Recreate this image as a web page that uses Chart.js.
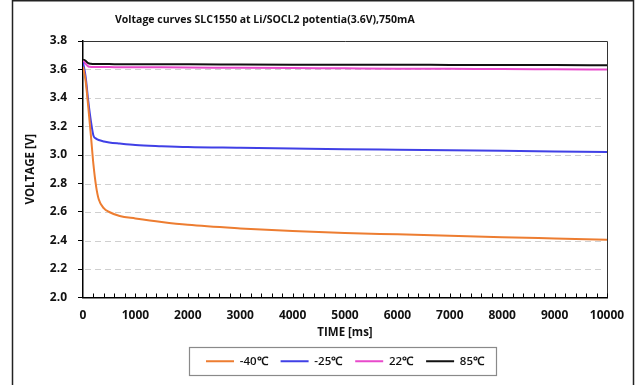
<!DOCTYPE html>
<html>
<head>
<meta charset="utf-8">
<script src="https://cdn.jsdelivr.net/npm/chart.js@4.4.1/dist/chart.umd.min.js"></script>
<style>
  html, body { margin: 0; padding: 0; background: #fff; }
  #wrap { position: relative; width: 638px; height: 385px; }
  #title {
    position: absolute; left: 115px; top: 12px;
    font: bold 10.5px "Open Sans", sans-serif; color: #111; white-space: nowrap;
  }
</style>
</head>
<body>
<div id="wrap">
  <canvas id="c" width="638" height="385"></canvas>
  <div id="title">Voltage curves SLC1550 at Li/SOCL2 potentia(3.6V),750mA</div>
</div>
<script>
const timeMs = [0, 50, 100, 150, 200, 250, 300, 400, 500, 700, 1000, 1500, 2000, 3000, 4000, 5000, 6000, 7000, 8000, 9000, 10000];
const vMinus40 = [3.62, 3.52, 3.34, 3.14, 2.93, 2.78, 2.69, 2.625, 2.60, 2.572, 2.555, 2.53, 2.51, 2.485, 2.466, 2.453, 2.443, 2.433, 2.423, 2.414, 2.405];
const vMinus25 = [3.65, 3.55, 3.38, 3.24, 3.135, 3.115, 3.105, 3.095, 3.088, 3.08, 3.07, 3.062, 3.056, 3.051, 3.046, 3.041, 3.037, 3.033, 3.029, 3.025, 3.021];
const v22 = [3.66, 3.64, 3.622, 3.618, 3.617, 3.617, 3.617, 3.617, 3.617, 3.616, 3.616, 3.615, 3.614, 3.612, 3.610, 3.608, 3.606, 3.605, 3.603, 3.602, 3.600];
const v85 = [3.67, 3.66, 3.645, 3.64, 3.638, 3.638, 3.638, 3.638, 3.638, 3.637, 3.637, 3.636, 3.636, 3.635, 3.634, 3.633, 3.633, 3.632, 3.631, 3.631, 3.630];
const seriesLabels = ["-40℃", "-25℃", "22℃", "85℃"];
const seriesColors = ["#ED7D31", "#4040E6", "#E84ACB", "#111111"];
const yTicks = [2.0, 2.2, 2.4, 2.6, 2.8, 3.0, 3.2, 3.4, 3.6, 3.8];

const FONT = "'Open Sans', sans-serif";

function pts(vals){
  return timeMs.map((t, i) => ({x: t, y: vals[i]}));
}

const frame = {
  id: "frame",
  beforeDraw(chart){
    const ctx = chart.ctx;
    ctx.save();
    ctx.strokeStyle = "#222";
    ctx.lineWidth = 1.5;
    ctx.beginPath();
    ctx.moveTo(12.5, 390); ctx.lineTo(12.5, 0.75); ctx.lineTo(633.5, 0.75); ctx.lineTo(633.5, 390);
    ctx.stroke();
    ctx.restore();
  },
  beforeDatasetsDraw(chart){
    // dashed horizontal grid
    const ctx = chart.ctx;
    const a = chart.chartArea;
    const ys = chart.scales.y;
    ctx.save();
    ctx.strokeStyle = "#cfcfcf";
    ctx.lineWidth = 1;
    ctx.setLineDash([6, 4]);
    ctx.beginPath();
    for(const v of yTicks){
      if(v <= 2.0 || v >= 3.8) continue;
      const py = Math.round(ys.getPixelForValue(v)) + 0.5;
      ctx.moveTo(a.left + 2, py); ctx.lineTo(a.right - 2, py);
    }
    ctx.stroke();
    ctx.restore();
  },
  afterDraw(chart){
    const ctx = chart.ctx;
    const a = chart.chartArea;
    const xs = chart.scales.x;
    ctx.save();
    // plot box top/right
    ctx.strokeStyle = "#333";
    ctx.lineWidth = 1;
    ctx.beginPath();
    ctx.moveTo(a.left, a.top + 0.5); ctx.lineTo(a.right + 0.5, a.top + 0.5); ctx.lineTo(a.right + 0.5, a.bottom);
    ctx.stroke();
    // minor ticks inside along x axis
    ctx.strokeStyle = "#000";
    ctx.beginPath();
    for(let v = 200; v <= 10000; v += 200){
      const px = Math.round(xs.getPixelForValue(v)) + 0.5;
      ctx.moveTo(px, a.bottom); ctx.lineTo(px, a.bottom - 4);
    }
    ctx.stroke();
    // legend box
    const boxes = chart.legend.legendHitBoxes;
    if(boxes && boxes.length){
      const l = Math.min(...boxes.map(b => b.left)) - 17;
      const r = Math.max(...boxes.map(b => b.left + b.width)) + 12;
      const cy = boxes[0].top + boxes[0].height / 2;
      ctx.strokeStyle = "#8a8a8a";
      ctx.lineWidth = 1.2;
      ctx.strokeRect(Math.round(l) + 0.5, Math.round(cy - 14) + 0.5, Math.round(r - l), 28);
    }
    ctx.restore();
  }
};

new Chart(document.getElementById("c"), {
  type: "line",
  data: {
    datasets: [vMinus40, vMinus25, v22, v85].map((vals, i) => ({
      label: seriesLabels[i],
      data: pts(vals),
      borderColor: seriesColors[i],
      backgroundColor: seriesColors[i],
      borderWidth: 2,
      pointRadius: 0,
      cubicInterpolationMode: "monotone",
      fill: false,
    }))
  },
  options: {
    responsive: false,
    animation: false,
    events: [],
    layout: {padding: {top: 41, right: 31, bottom: 8, left: 0}},
    plugins: {
      title: {display: false},
      tooltip: {enabled: false},
      legend: {
        position: "bottom",
        fullSize: false,
        labels: {
          usePointStyle: true,
          pointStyle: "line",
          pointStyleWidth: 28,
          boxHeight: 12,
          padding: 13,
          color: "#111",
          font: {family: FONT, size: 11.5, weight: "600"},
        }
      }
    },
    scales: {
      x: {
        type: "linear",
        min: 0, max: 10000,
        ticks: {stepSize: 1000, padding: 11, color: "#111", font: {family: FONT, size: 12, weight: "bold"}, maxRotation: 0,
                callback: v => String(v)},
        grid: {display: false, drawTicks: false},
        border: {display: true, color: "#000", width: 1.5},
        title: {display: true, text: "TIME [ms]", color: "#111", font: {family: FONT, size: 11.5, weight: "bold"}, padding: {top: 0, bottom: 3}},
        afterFit(s){ s.height = 45; }
      },
      y: {
        min: 2.0, max: 3.8,
        afterBuildTicks(s){ s.ticks = yTicks.map(v => ({value: v})); },
        ticks: {padding: 11, color: "#111", font: {family: FONT, size: 12, weight: "bold"}, callback: v => Number(v).toFixed(1)},
        grid: {
          drawTicks: true, tickLength: 5, tickColor: "#000", lineWidth: 1,
          color: "rgba(0,0,0,0)"
        },
        border: {display: true, color: "#000", width: 1.5},
        title: {display: true, text: "VOLTAGE [V]", color: "#111", font: {family: FONT, size: 11.5, weight: "bold"}, padding: {top: 24, bottom: 0}},
        afterFit(s){ s.width = 83; }
      }
    }
  },
  plugins: [frame]
});
</script>
</body>
</html>
